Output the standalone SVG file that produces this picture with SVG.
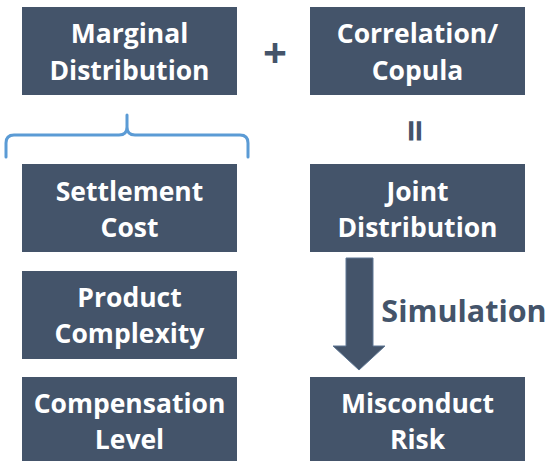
<svg xmlns="http://www.w3.org/2000/svg" width="548" height="461" viewBox="0 0 548 461">
  <style>
    .box { fill: #44546A; }
    .lbl { font-family: "Open Sans", "Liberation Sans", sans-serif; font-weight: 700; font-size: 26.5px; fill: #FFFFFF; text-anchor: middle; }
    .op { font-family: "Open Sans", "Liberation Sans", sans-serif; font-weight: 700; fill: #44546A; text-anchor: middle; }
    .brace { fill: none; stroke: #5B9BD5; stroke-width: 3; stroke-linecap: round; stroke-linejoin: round; }
    .arrow { fill: #44546A; stroke: #5E7794; stroke-width: 1; }
  </style>
  <rect width="548" height="461" fill="#FFFFFF"/>

  <g id="marginal-distribution">
    <rect class="box" x="22" y="7" width="215" height="88"/>
    <text class="lbl" x="129.5" y="43">Marginal</text>
    <text class="lbl" x="129.5" y="80">Distribution</text>
  </g>

  <g id="correlation-copula">
    <rect class="box" x="310" y="7" width="215" height="88"/>
    <text class="lbl" x="417.5" y="43">Correlation/</text>
    <text class="lbl" x="417.5" y="80">Copula</text>
  </g>

  <g id="settlement-cost">
    <rect class="box" x="22" y="164" width="215" height="88"/>
    <text class="lbl" x="129.5" y="201">Settlement</text>
    <text class="lbl" x="129.5" y="237">Cost</text>
  </g>

  <g id="joint-distribution">
    <rect class="box" x="310" y="164" width="215" height="88"/>
    <text class="lbl" x="417.5" y="201">Joint</text>
    <text class="lbl" x="417.5" y="237">Distribution</text>
  </g>

  <g id="product-complexity">
    <rect class="box" x="22" y="271" width="215" height="88"/>
    <text class="lbl" x="129.5" y="307">Product</text>
    <text class="lbl" x="129.5" y="343">Complexity</text>
  </g>

  <g id="compensation-level">
    <rect class="box" x="22" y="377" width="215" height="88"/>
    <text class="lbl" x="129.5" y="413">Compensation</text>
    <text class="lbl" x="129.5" y="449">Level</text>
  </g>

  <g id="misconduct-risk">
    <rect class="box" x="310" y="377" width="215" height="88"/>
    <text class="lbl" x="417.5" y="413">Misconduct</text>
    <text class="lbl" x="417.5" y="449">Risk</text>
  </g>

  <g id="operators">
    <text class="op" x="275" y="68" font-size="42">+</text>
    <text class="op" transform="translate(415 131) rotate(90)" x="0" y="14" font-size="40">=</text>
  </g>

  <g id="connectors">
    <!-- brace grouping the three marginal factors -->
    <path class="brace" d="M6,157 V143 Q6,135 14,135 H119 Q127,135 127,127 V115 M127,127 Q127,135 135,135 H240 Q248,135 248,143 V157"/>
    <!-- simulation arrow -->
    <path class="arrow" d="M346,258 H373 V346 H385 L359,370 L333,346 H346 Z"/>
    <text class="op" x="464" y="322" font-size="30.5">Simulation</text>
  </g>
</svg>
